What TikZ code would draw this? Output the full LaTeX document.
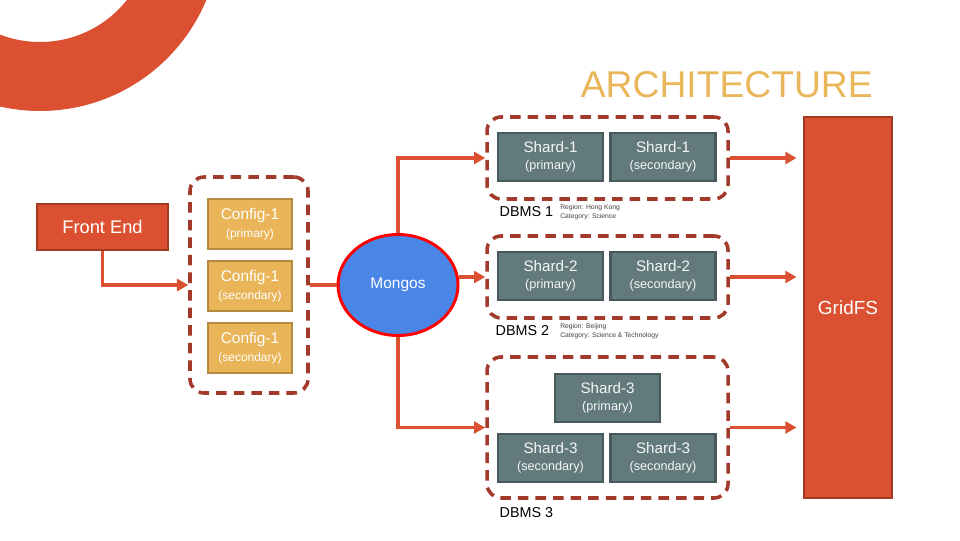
\documentclass[tikz,border=0pt]{standalone}
\usepackage{fontspec}
\setmainfont{Liberation Sans}
\usetikzlibrary{arrows.meta,positioning,calc,shapes.geometric}
\definecolor{brick}{HTML}{DA5030}
\definecolor{brickdark}{HTML}{A23A22}
\definecolor{dashbrown}{HTML}{A3392A}
\definecolor{sand}{HTML}{E9B558}
\definecolor{sanddark}{HTML}{B38A40}
\definecolor{slate}{HTML}{637A7C}
\definecolor{slatedark}{HTML}{48595B}
\definecolor{mongoblue}{HTML}{4A86E8}
\definecolor{titlegold}{HTML}{EAB65A}
\newcommand{\rolelbl}[2]{{\fontsize{#2}{#2}\selectfont(#1)}}

\begin{document}
\begin{tikzpicture}[
    frontend/.style={draw=brickdark,fill=brick,line width=2.1pt,text=white,minimum width=3.275cm,minimum height=1.15cm,align=center,font=\fontsize{13}{15}\selectfont},
    config/.style={draw=sanddark,fill=sand,line width=2.1pt,text=white,minimum width=2.1cm,minimum height=1.25cm,align=center,font=\fontsize{11}{12}\selectfont},
    shard/.style={draw=slatedark,fill=slate,line width=2.1pt,text=white!93!slate,minimum width=2.625cm,minimum height=1.2cm,align=center,font=\fontsize{10.8}{12}\selectfont},
    group/.style={draw=dashbrown,line width=2.5pt,dash pattern=on 7.5pt off 5pt,rounded corners=10pt,minimum width=6.025cm,minimum height=2.05cm},
    dbms/.style={anchor=west,inner sep=1pt,font=\fontsize{10.2}{12}\selectfont},
    meta/.style={anchor=west,align=left,inner sep=0pt,text=black!75,font=\fontsize{4.8}{6.4}\selectfont},
    flow/.style={draw=brick,line width=2.7pt,-{Triangle[length=8pt,width=8.5pt]}},
    link/.style={draw=brick,line width=2.7pt}
  ]
    \useasboundingbox (0,0) rectangle (24,13.5);

    % corner ring
    \begin{scope}
      \clip (0,0) rectangle (24,13.5);
      \fill[brick,even odd rule] (1.0,15.225) circle (4.5) (1.0,15.225) circle (2.775);
    \end{scope}

    % title
    \node[anchor=base east,inner sep=0pt,text=titlegold,font=\fontsize{26.5}{28}\selectfont] (title) at (21.825,11.05) {ARCHITECTURE};

    % front end and config servers
    \node[frontend] (fe) at (2.5625,7.825) {Front End};
    \node[group,minimum width=2.95cm,minimum height=5.4cm] (cfggrp) at (6.225,6.375) {};
    \node[config] (cfg1) at (6.25,7.9) {Config-1\\[0.5pt]\rolelbl{primary}{8.5}};
    \node[config] (cfg2) at (6.25,6.35) {Config-1\\[0.5pt]\rolelbl{secondary}{8.5}};
    \node[config] (cfg3) at (6.25,4.8) {Config-1\\[0.5pt]\rolelbl{secondary}{8.5}};

    % router
    \node[ellipse,draw=red,fill=mongoblue,line width=2.1pt,text=white,minimum width=3.0cm,minimum height=2.525cm,font=\fontsize{11}{12}\selectfont] (mongos) at (9.95,6.375) {Mongos};

    % shard groups
    \node[group] (grp1) at (15.1875,9.55) {};
    \node[group] (grp2) at (15.1875,6.575) {};
    \node[group,minimum height=3.525cm] (grp3) at (15.1875,2.8125) {};

    \node[shard] (s1p) at (13.7625,9.575) {Shard-1\\[0.5pt]\rolelbl{primary}{9}};
    \node[shard] (s1s) at (16.575,9.575) {Shard-1\\[0.5pt]\rolelbl{secondary}{9}};
    \node[shard] (s2p) at (13.7625,6.6) {Shard-2\\[0.5pt]\rolelbl{primary}{9}};
    \node[shard] (s2s) at (16.575,6.6) {Shard-2\\[0.5pt]\rolelbl{secondary}{9}};
    \node[shard] (s3p) at (15.1875,3.55) {Shard-3\\[0.5pt]\rolelbl{primary}{9}};
    \node[shard] (s3a) at (13.7625,2.05) {Shard-3\\[0.5pt]\rolelbl{secondary}{9}};
    \node[shard] (s3b) at (16.575,2.05) {Shard-3\\[0.5pt]\rolelbl{secondary}{9}};

    \node[dbms] (db1) at (12.45,8.2) {DBMS 1};
    \node[meta] (db1meta) at (14.0,8.2) {Region: Hong Kong\\Category: Science};
    \node[dbms] (db2) at (12.35,5.225) {DBMS 2};
    \node[meta] (db2meta) at (14.0,5.225) {Region: Beijing\\Category: Science \& Technology};
    \node[dbms] (db3) at (12.45,0.675) {DBMS 3};

    % storage
    \node[draw=brickdark,fill=brick,line width=2.1pt,text=white,minimum width=2.2cm,minimum height=9.525cm,font=\fontsize{13.5}{15}\selectfont] (gridfs) at (21.2,5.8125) {GridFS};

    % connections
    \draw[flow] (fe.south) |- (cfggrp.west);
    \draw[link] (cfggrp.east) -- (mongos.west);
    \draw[flow] (mongos.north) |- (grp1.west);
    \draw[flow] (mongos.east |- grp2.west) -- (grp2.west);
    \draw[flow] (mongos.south) |- (grp3.west);
    \draw[flow] (grp1.east) -- ($(grp1.east -| gridfs.west)+(-0.15,0)$);
    \draw[flow] (grp2.east) -- ($(grp2.east -| gridfs.west)+(-0.15,0)$);
    \draw[flow] (grp3.east) -- ($(grp3.east -| gridfs.west)+(-0.15,0)$);
  \end{tikzpicture}
\end{document}
